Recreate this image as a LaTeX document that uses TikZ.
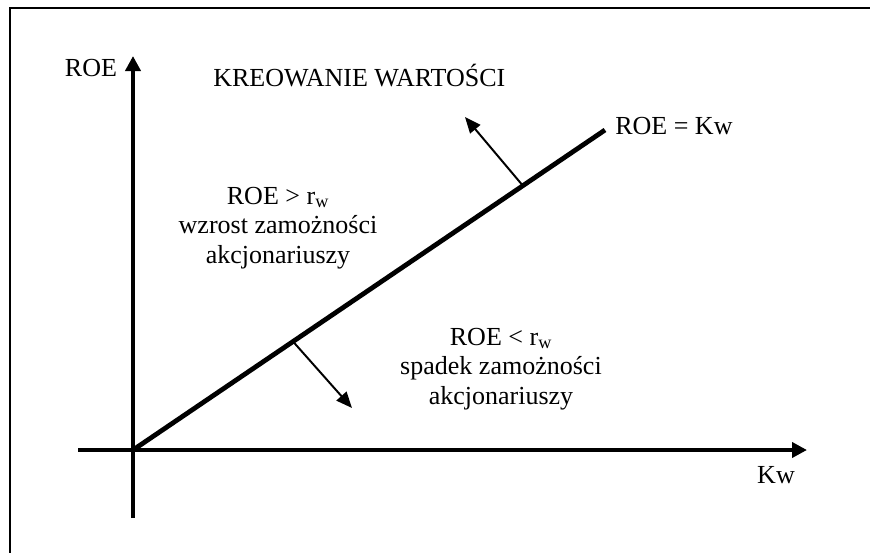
\documentclass[tikz,border=0pt]{standalone}
\usepackage{fontspec}
\setmainfont{Liberation Serif}
\usetikzlibrary{arrows.meta, calc}

\begin{document}
\begin{tikzpicture}[
    x=0.025cm, y=-0.025cm,
    every node/.style={font=\fontsize{18.5}{21}\selectfont, inner sep=0pt},
    axis/.style={-{Triangle[length=0.375cm, width=0.375cm]}, line width=2.9pt},
    border/.style={line width=1.4pt},
    diag/.style={line width=3.4pt},
    arr/.style={-{Triangle[length=0.4cm, width=0.33cm]}, line width=1.4pt},
    lab/.style={align=center},
]
\useasboundingbox (0,0) rectangle (870,553);

% ============================================================ the frame, cut at right and bottom
\draw[border] (10,553) -- (10,8) -- (870,8);

% ============================================================ the axes
\coordinate (O) at (133,450);
\coordinate (ybot) at (133,518);
\coordinate (ytop) at (133,56);
\coordinate (xleft) at (78,450);
\coordinate (xright) at (807,450);
\draw[axis] (ybot) -- (ytop);
\draw[axis] (xleft) -- (xright);

\node (roeaxis) at (91,68) {ROE};
\node (kwaxis) at (776,475) {Kw};

% ============================================================ the line ROE = Kw
\coordinate (lineend) at (605,130);
\draw[diag] (O) -- (lineend);
\node[anchor=west] (linelab) at (615,126) {ROE = Kw};

% the two arrows off the line
\coordinate (upfoot) at ($(O)!0.826!(lineend)$);
\coordinate (uptip) at (465,117);
\coordinate (downfoot) at ($(O)!0.339!(lineend)$);
\coordinate (downtip) at (352,408);
\draw[arr] (upfoot) -- (uptip);
\draw[arr] (downfoot) -- (downtip);

% ============================================================ the texts
\node[anchor=west] (title) at (213,76) {KREOWANIE WARTOŚCI};
\node[lab] (above) at (278,228)
    {ROE > r\textsubscript{w}\\ wzrost zamożności\\ akcjonariuszy};
\node[lab] (below) at (501,369)
    {ROE < r\textsubscript{w}\\ spadek zamożności\\ akcjonariuszy};

\end{tikzpicture}
\end{document}
